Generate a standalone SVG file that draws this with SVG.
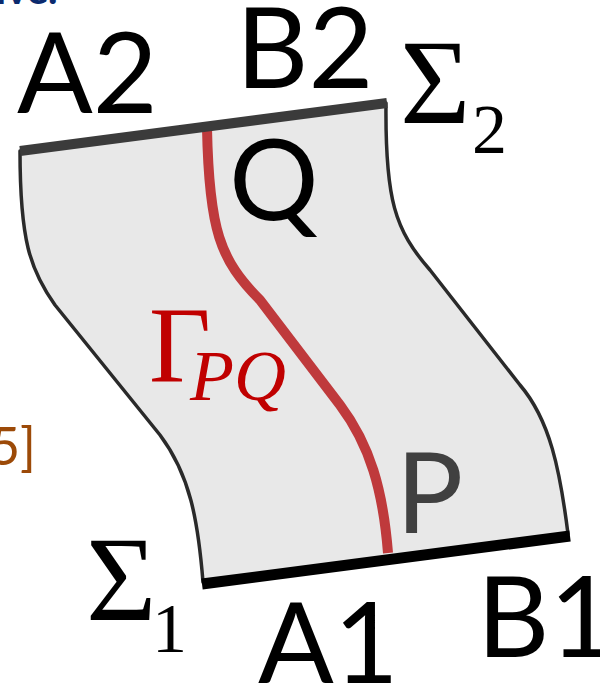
<svg xmlns="http://www.w3.org/2000/svg" width="600" height="687" viewBox="0 0 600 687">
<style>
.lbl{font-family:Lato,"Open Sans",sans-serif;font-size:112px;fill:#000}
.sig{font-family:"Liberation Serif","Times New Roman",serif;fill:#000}
.red{fill:#c00000;font-family:"Liberation Serif","Times New Roman",serif}
</style>
<rect width="600" height="687" fill="#fff"/>
<text x="-4" y="4" style="font-family:Lato,sans-serif;font-weight:bold;font-size:40px;fill:#0b2a6e">ive.</text>
<text x="36" y="465" text-anchor="end" style="font-family:Lato,sans-serif;font-size:52px;fill:#9c4a08">5]</text>
<g id="surface">
<path d="M20,151 L386,103 C 385,200 395,230 430,270 L 520,385 C 550,420 560,470 568,534 L 203,582 C 198,520 190,475 160,435 L 55,305 C 30,270 20,240 20,151 Z" fill="#e8e8e8" stroke="#2a2a2a" stroke-width="3.5" stroke-linejoin="round"/>
</g>
<g id="connectors">
<path id="gamma" d="M207,128 C 209,230 220,260 260,300 L 340,405 C 370,445 383,490 388,553" fill="none" stroke="#bf3a3c" stroke-width="10"/>
</g>
<g id="sigma2-edge"><line x1="20" y1="151" x2="387" y2="103" stroke="#3b3b3b" stroke-width="10"/></g>
<g id="sigma1-edge"><line x1="202" y1="584" x2="570" y2="536" stroke="#000" stroke-width="11"/></g>
<g id="A2"><text class="lbl" x="17" y="113">A2</text></g>
<g id="B2"><text class="lbl" x="236" y="88">B2</text></g>
<g id="Q"><text class="lbl" x="229" y="220">Q</text></g>
<g id="P"><text class="lbl" x="396" y="533" style="fill:#404040">P</text></g>
<g id="A1"><text class="lbl" x="258" y="683">A1</text></g>
<g id="B1"><text class="lbl" x="477" y="657">B1</text></g>
<g id="Sigma2"><text class="sig" x="400" y="123" font-size="121">Σ</text><text class="sig" x="472" y="153" font-size="70">2</text></g>
<g id="Sigma1"><text class="sig" x="86" y="620" font-size="121">Σ</text><text class="sig" x="152" y="652" font-size="70">1</text></g>
<g id="GammaPQ"><text class="red" x="149" y="381" font-size="107">Γ</text><text class="red" x="190" y="400" font-size="72" font-style="italic">PQ</text></g>
</svg>
